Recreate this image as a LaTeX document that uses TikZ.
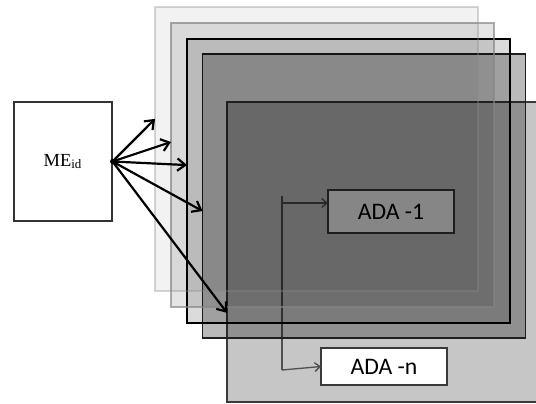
\documentclass[tikz,border=0pt]{standalone}
\usepackage{fontspec}
\setmainfont{Liberation Serif}
\newfontfamily\adafont{Carlito}
\usetikzlibrary{arrows.meta, calc}
\definecolor{adBase}{HTML}{C6C6C6}
\definecolor{adEdge}{HTML}{3A3A3A}
\definecolor{adLink}{HTML}{505050}

\begin{document}
\begin{tikzpicture}[
  x=0.02cm, y=-0.02cm,
  layer/.style={minimum width=6.46cm, minimum height=5.68cm, inner sep=0pt, outer sep=0pt},
  adabox/.style={draw=adEdge, fill=white, line width=1.2pt, inner sep=0pt, outer sep=0pt,
                 minimum width=2.52cm, font={\adafont\fontsize{13.5pt}{16pt}\selectfont}},
  feed/.style={line width=1.25pt, -{Straight Barb[length=4.5pt,width=7pt]}},
  link/.style={draw=adLink, line width=0.75pt},
]
\useasboundingbox (0,0) rectangle (536,404);
\clip (0,0) rectangle (536,404);

% ---------------- Lớp dưới cùng (ADA) ----------------
\node[layer, minimum height=6cm, fill=adBase, draw=adEdge, line width=0.8pt] (lay5) at (388.5,252) {};
\node[adabox, minimum height=0.86cm] (ada1) at (391,211.5) {ADA -1};
\node[adabox, minimum height=0.74cm] (adan) at (384,366.5) {ADA -n};

\coordinate (bustop) at (282,196);
\coordinate (br1) at (282,203);
\coordinate (busbot) at (282,370);
\draw[link] (bustop) -- (busbot);
\draw[link, -{Straight Barb[length=3pt,width=5pt]}] (br1) -- (br1 -| ada1.west);
\draw[link, -{Straight Barb[length=3pt,width=5pt]}] (busbot) -- (adan.west);

% ---------------- Các lớp trong suốt ----------------
\node[layer, fill=black, fill opacity=0.27, draw=black!88, line width=0.8pt] (lay4) at (364,196) {};
\node[layer, fill=black, fill opacity=0.14, draw=black, line width=1.1pt] (lay3) at (348.5,181) {};
\node[layer, fill=black, fill opacity=0.1, draw=black!48, draw opacity=0.68, line width=0.7pt] (lay2) at (332.5,165) {};
\node[layer, fill=black, fill opacity=0.05, draw=black!45, draw opacity=0.36, line width=0.7pt] (lay1) at (316.5,149) {};

% ---------------- ME ----------------
\node[draw=black!80, line width=0.6pt, minimum width=1.96cm, minimum height=2.38cm,
      inner sep=0pt, font=\fontsize{10.5pt}{12pt}\selectfont] (me) at (63,161.5) {ME\textsubscript{id}};

\fill (me.east) circle [radius=2.5];
\draw[feed] (me.east) -- ($(lay1.north west)!0.394!(lay1.south west)$);
\draw[feed] (me.east) -- ($(lay2.north west)!0.419!(lay2.south west)$);
\draw[feed] (me.east) -- ($(lay3.north west)!0.444!(lay3.south west)$);
\draw[feed] (me.east) -- ($(lay4.north west)!0.553!(lay4.south west)$);
\draw[feed] (me.east) -- ($(lay5.north west)!0.703!(lay5.south west)$);
\end{tikzpicture}
\end{document}
